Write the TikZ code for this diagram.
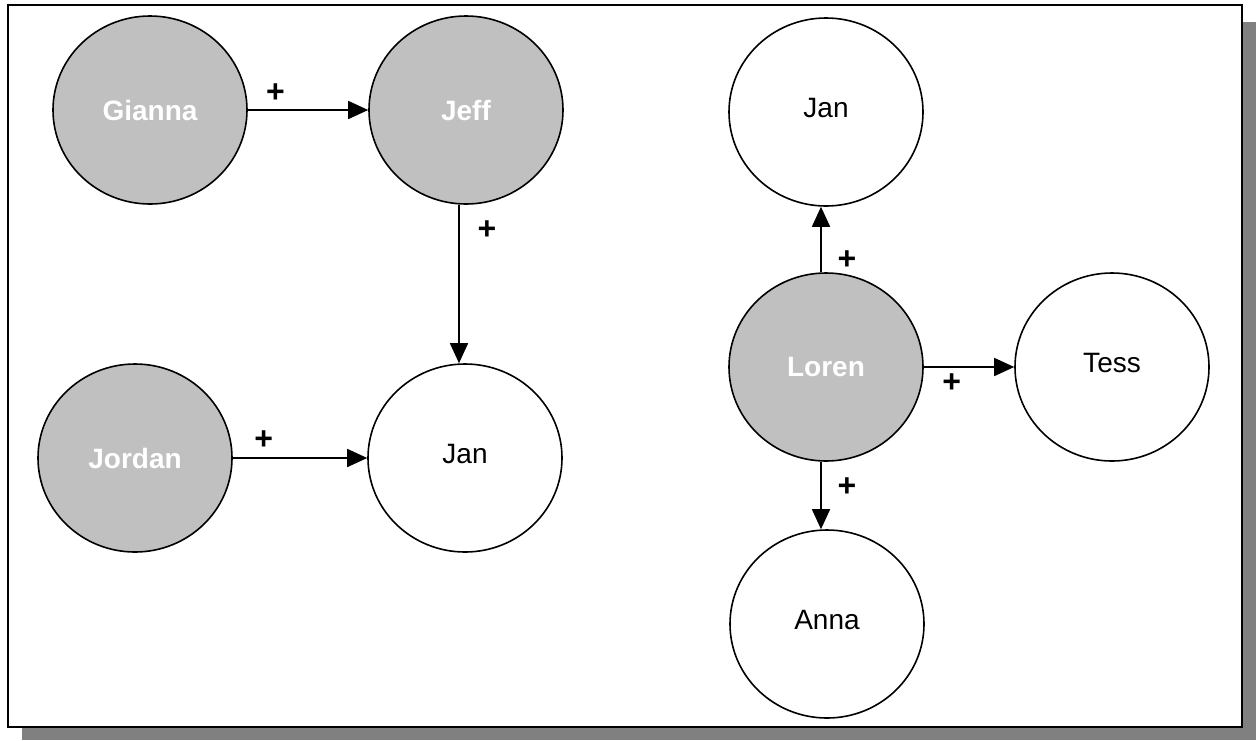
\documentclass[tikz,border=0pt]{standalone}
\usepackage{fontspec}
\setmainfont{Liberation Sans}
\usetikzlibrary{shapes.geometric,arrows.meta}
\definecolor{nodegray}{HTML}{C0C0C0}
\definecolor{shadowgray}{HTML}{808080}
\begin{document}
\begin{tikzpicture}[x=1pt,y=-1pt,
  person/.style={ellipse,draw=black,line width=1.6pt,minimum width=194pt,minimum height=188pt,inner sep=0pt,font=\fontsize{28}{32}\selectfont},
  source/.style={person,fill=nodegray,text=white,font=\fontsize{28}{32}\selectfont\bfseries},
  target/.style={person,fill=white,text depth=8pt},
  link/.style={draw=black,line width=1.6pt,-{Triangle[length=20pt,width=18pt]}},
  sign/.style={font=\fontsize{32}{36}\selectfont\bfseries,inner sep=0pt}]
  \useasboundingbox (0,0) rectangle (1256,740);
  % framed panel with drop shadow
  \fill[shadowgray] (22,22) rectangle (1256,740);
  \draw[fill=white,line width=2.4pt] (8,5) rectangle (1242,727);

  % left group
  \node[source] (gianna) at (150,110) {Gianna};
  \node[source] (jeff)   at (466,110) {Jeff};
  \node[source] (jordan) at (135,458) {Jordan};
  \node[target] (janL)   at (465,458) {Jan};

  % right group
  \node[target] (janR)  at (826,112) {Jan};
  \node[source] (loren) at (826,367) {Loren};
  \node[target] (tess)  at (1112,367) {Tess};
  \node[target] (anna)  at (827,624) {Anna};

  % influences
  \path[link] (gianna.east) -- (gianna.east -| jeff.west)
    node[sign,pos=0.23,yshift=17pt] {+};
  \path[link] ([xshift=-6pt]janL.north |- jeff.south) -- ([xshift=-6pt]janL.north)
    node[sign,pos=0.16,xshift=28pt] {+};
  \path[link] (jordan.east) -- (jordan.east -| janL.west)
    node[sign,pos=0.23,yshift=18pt] {+};
  \path[link] ([xshift=-5pt]loren.north) -- ([xshift=-5pt]loren.north |- janR.south)
    node[sign,pos=0.18,xshift=26pt] {+};
  \path[link] (loren.east) -- (loren.east -| tess.west)
    node[sign,pos=0.31,yshift=-16pt] {+};
  \path[link] ([xshift=-5pt]loren.south) -- ([xshift=-5pt]loren.south |- anna.north)
    node[sign,pos=0.37,xshift=26pt] {+};
\end{tikzpicture}
\end{document}
